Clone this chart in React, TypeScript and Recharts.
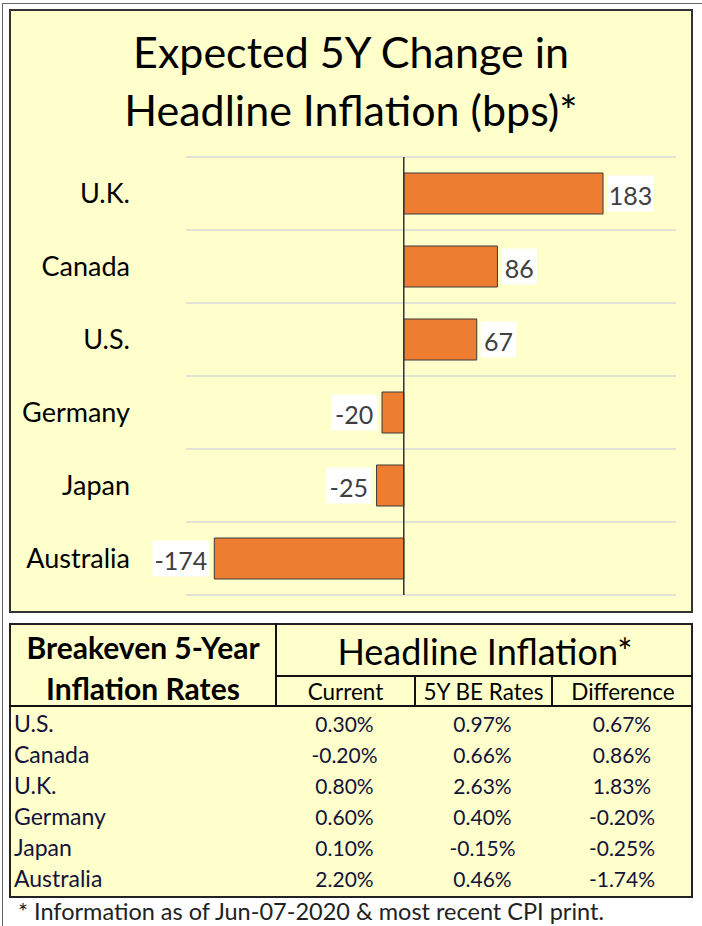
import * as React from "react";
import {
  Bar,
  BarChart,
  CartesianGrid,
  LabelList,
  ReferenceLine,
  XAxis,
  YAxis,
} from "recharts";

// chart: top-to-bottom order as drawn
const chartCountries = ["U.K.", "Canada", "U.S.", "Germany", "Japan", "Australia"];
const changeBps = [183, 86, 67, -20, -25, -174];

// table rows
const tableCountries = ["U.S.", "Canada", "U.K.", "Germany", "Japan", "Australia"];
const currentRates = [0.3, -0.2, 0.8, 0.6, 0.1, 2.2];
const beRates = [0.97, 0.66, 2.63, 0.4, -0.15, 0.46];
const differences = [0.67, 0.86, 1.83, -0.2, -0.25, -1.74];
const subHeaders = ["Current", "5Y BE Rates", "Difference"];

const FONT = "Lato, 'Open Sans', sans-serif";
const YELLOW = "#FFFFCC";
const ORANGE = "#ED7D31";

const pct = (v: number) => `${v.toFixed(2)}%`;

function ValueLabel(props: any) {
  const { x, y, width, height, value } = props;
  const x0 = Math.min(x, x + width);
  const x1 = Math.max(x, x + width);
  const neg = value < 0;
  const txt = String(value);
  const digits = txt.replace("-", "").length;
  const w = 13 + digits * 11.3 + (neg ? 10 : 0);
  const h = 36;
  const bx = neg ? x0 - 5 - w : x1 + 4;
  const cy = y + height / 2;
  return (
    <g>
      <rect x={bx} y={cy - h / 2} width={w} height={h} fill="#FFFFFF" />
      <text
        x={bx + w / 2}
        y={cy + 1}
        textAnchor="middle"
        dominantBaseline="central"
        fontSize={25}
        fontFamily={FONT}
        fill="#404040"
      >
        {txt}
      </text>
    </g>
  );
}

export default function App() {
  const data = chartCountries.map((name, i) => ({ name, value: changeBps[i] }));

  const cols = [
    { left: 275, width: 139 },
    { left: 414, width: 137 },
    { left: 551, width: 142 },
  ];
  const line = "#111";

  return (
    <div
      style={{
        position: "absolute",
        left: 0,
        top: 0,
        width: 702,
        height: 926,
        background: "#fff",
        fontFamily: FONT,
        overflow: "hidden",
      }}
    >
      {/* outer frame */}
      <div
        style={{
          position: "absolute",
          left: 2,
          top: 3,
          width: 710,
          height: 930,
          borderLeft: "1.5px solid #666",
          borderTop: "1.5px solid #666",
        }}
      />

      {/* chart panel */}
      <div
        style={{
          position: "absolute",
          left: 9,
          top: 9,
          width: 680,
          height: 600,
          background: YELLOW,
          border: "2px solid #333",
        }}
      >
        <div
          style={{
            position: "absolute",
            left: 0,
            top: 12,
            width: 680,
            textAlign: "center",
            fontSize: 43,
            lineHeight: "58px",
            color: "#000",
          }}
        >
          Expected 5Y Change in
          <br />
          Headline Inflation (bps)*
        </div>
        <div style={{ position: "absolute", left: -2, top: -2 }}>
          <BarChart
            layout="vertical"
            width={684}
            height={604}
            data={data}
            margin={{ top: 148, right: 17, bottom: 18, left: 0 }}
            barCategoryGap={16}
          >
            <CartesianGrid
              vertical={false}
              stroke="#D9D9D9"
              strokeWidth={1.5}
              horizontalCoordinatesGenerator={({ offset }: any) =>
                [0, 1, 2, 3, 4, 5, 6].map(
                  (i) => offset.top + (i * offset.height) / chartCountries.length,
                )
              }
            />
            <XAxis type="number" domain={[-200, 250]} hide />
            <YAxis
              type="category"
              dataKey="name"
              width={177}
              axisLine={false}
              tickLine={false}
              tickMargin={50}
              tick={{ fontSize: 27, fill: "#000", fontFamily: FONT }}
            />
            <Bar
              dataKey="value"
              fill={ORANGE}
              stroke="#3a3a3a"
              strokeWidth={1}
              barSize={41}
              isAnimationActive={false}
            >
              <LabelList dataKey="value" content={ValueLabel} />
            </Bar>
            <ReferenceLine x={0} stroke="#333" strokeWidth={1.5} />
          </BarChart>
        </div>
      </div>

      {/* table */}
      <div
        style={{
          position: "absolute",
          left: 9,
          top: 623,
          width: 680,
          height: 271,
          background: YELLOW,
          border: "2px solid #222",
        }}
      />
      {/* table lines */}
      <div style={{ position: "absolute", left: 275, top: 623, width: 2, height: 84, background: line }} />
      <div style={{ position: "absolute", left: 275, top: 675, width: 418, height: 2, background: line }} />
      <div style={{ position: "absolute", left: 9, top: 705, width: 684, height: 2, background: line }} />
      <div style={{ position: "absolute", left: 414, top: 675, width: 2, height: 31, background: line }} />
      <div style={{ position: "absolute", left: 551, top: 675, width: 2, height: 31, background: line }} />

      <div
        style={{
          position: "absolute",
          left: 11,
          top: 627,
          width: 264,
          textAlign: "center",
          fontSize: 30,
          fontWeight: 700,
          lineHeight: "41px",
          color: "#000",
          whiteSpace: "nowrap",
        }}
      >
        Breakeven 5-Year
        <br />
        Inflation Rates
      </div>
      <div
        style={{
          position: "absolute",
          left: 277,
          top: 629,
          width: 416,
          textAlign: "center",
          fontSize: 36,
          lineHeight: "44px",
          color: "#000",
        }}
      >
        Headline Inflation*
      </div>
      {subHeaders.map((s, i) => (
        <div
          key={s}
          style={{
            position: "absolute",
            left: cols[i].left + 2,
            top: 677,
            width: cols[i].width - 2,
            height: 28,
            lineHeight: "30px",
            textAlign: "center",
            fontSize: 22.5,
            color: "#000",
            whiteSpace: "nowrap",
          }}
        >
          {s}
        </div>
      ))}

      {tableCountries.map((c, r) => {
        const top = 708 + r * 31;
        const vals = [currentRates[r], beRates[r], differences[r]];
        return (
          <React.Fragment key={c}>
            <div
              style={{
                position: "absolute",
                left: 14,
                top,
                height: 31,
                lineHeight: "31px",
                fontSize: 23,
                color: "#13133a",
              }}
            >
              {c}
            </div>
            {vals.map((v, i) => (
              <div
                key={i}
                style={{
                  position: "absolute",
                  left: cols[i].left,
                  top,
                  width: cols[i].width,
                  height: 31,
                  lineHeight: "31px",
                  textAlign: "center",
                  fontSize: 21,
                  color: "#13133a",
                }}
              >
                {pct(v)}
              </div>
            ))}
          </React.Fragment>
        );
      })}

      <div
        style={{
          position: "absolute",
          left: 18,
          top: 897,
          height: 28,
          lineHeight: "28px",
          fontSize: 23.5,
          color: "#222",
          whiteSpace: "nowrap",
        }}
      >
        * Information as of Jun-07-2020 &amp; most recent CPI print.
      </div>
    </div>
  );
}
